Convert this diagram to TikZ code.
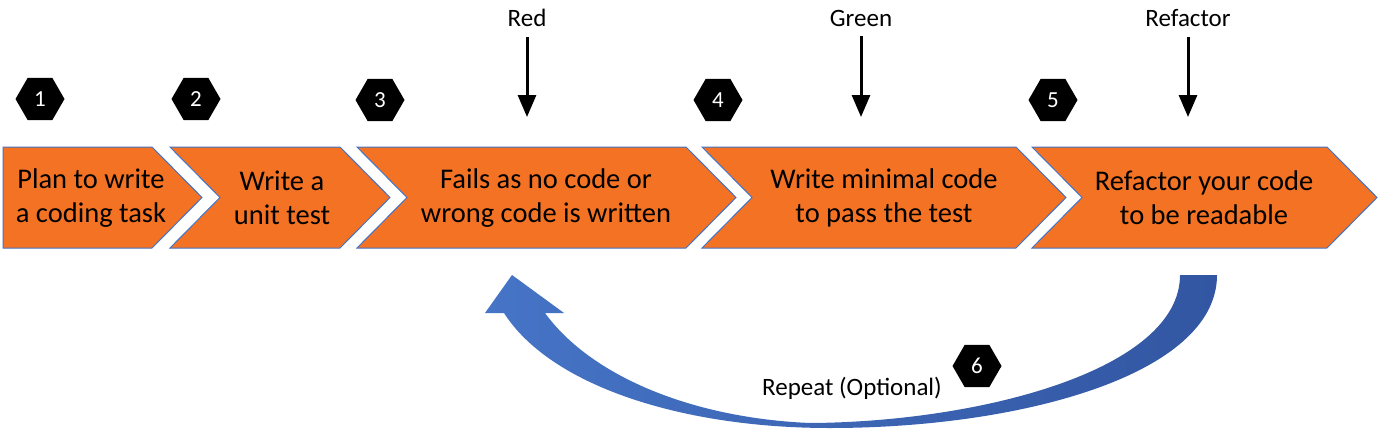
\documentclass[tikz,border=0pt]{standalone}
\usepackage{fontspec}
\setmainfont{Carlito}
\usetikzlibrary{arrows.meta,shapes.geometric}
\definecolor{chev}{RGB}{243,114,36}
\definecolor{chevline}{RGB}{68,114,196}
\definecolor{blueL}{RGB}{70,116,198}
\definecolor{blueD}{RGB}{50,86,162}
\begin{document}
\begin{tikzpicture}[x=1pt,y=-1pt,
 chevron/.style={fill=chev,draw=chevline,line width=1pt,line join=miter},
 chevtext/.style={align=center,font=\fontsize{28.5}{34}\selectfont,inner sep=0pt},
 hexnum/.style={regular polygon,regular polygon sides=6,minimum size=49pt,inner sep=0pt,fill=black,text=white,font=\fontsize{23}{23}\selectfont},
 toplabel/.style={font=\fontsize{25}{25}\selectfont,inner sep=2pt},
 downarrow/.style={line width=3pt,shorten <=8pt,-{Triangle[width=18pt,length=22pt]}}
]
\useasboundingbox (0,0) rectangle (1380,436);
\fill[white] (0,0) rectangle (1380,436);

% chevrons
\draw[chevron] (3,147) -- (152,147) -- (202,197.5) -- (152,248) -- (3,248) -- cycle;
\draw[chevron] (170,147) -- (340,147) -- (390,197.5) -- (340,248) -- (170,248) -- (220,197.5) -- cycle;
\draw[chevron] (357,147) -- (686,147) -- (736,197.5) -- (686,248) -- (357,248) -- (407,197.5) -- cycle;
\draw[chevron] (702,147) -- (1016,147) -- (1066,197.5) -- (1016,248) -- (702,248) -- (752,197.5) -- cycle;
\draw[chevron] (1032,147) -- (1327,147) -- (1377,197.5) -- (1327,248) -- (1032,248) -- (1082,197.5) -- cycle;

\node[chevtext] (t1) at (91,198) {Plan to write\\a coding task};
\node[chevtext] (t2) at (282,198) {Write a\\unit test};
\node[chevtext] (t3) at (546,198) {Fails as no code or\\wrong code is written};
\node[chevtext] (t4) at (884,198) {Write minimal code\\to pass the test};
\node[chevtext] (t5) at (1204,198) {Refactor your code\\to be readable};

% hexagons
\node[hexnum] (h1) at (40,99) {1};
\node[hexnum] (h2) at (196,99) {2};
\node[hexnum] (h3) at (380,100) {3};
\node[hexnum] (h4) at (718,100) {4};
\node[hexnum] (h5) at (1053,100) {5};
\node[hexnum] (h6) at (977,366) {6};

% top labels and arrows
\node[toplabel] (red) at (527,18) {Red};
\node[toplabel] (green) at (861,18) {Green};
\node[toplabel] (refac) at (1188,18) {Refactor};
\coordinate (redtip) at (527,117);
\coordinate (greentip) at (861,117);
\coordinate (refactip) at (1188,117);
\draw[downarrow] (red.south) -- (redtip);
\draw[downarrow] (green.south) -- (greentip);
\draw[downarrow] (refac.south) -- (refactip);

% curved repeat arrow
\shade[left color=blueL,right color=blueD]
 (1217,275) .. controls (1217,375) and (1020,428) .. (830,428)
 .. controls (680,428) and (550,385) .. (504,313)
 -- (485,313) -- (512,275) -- (564,313) -- (545,313)
 .. controls (590,375) and (690,418) .. (810,423)
 .. controls (980,422) and (1180,370) .. (1180,275) -- cycle;

\node[toplabel] (rep) at (852,388) {Repeat (Optional)};
\end{tikzpicture}
\end{document}
